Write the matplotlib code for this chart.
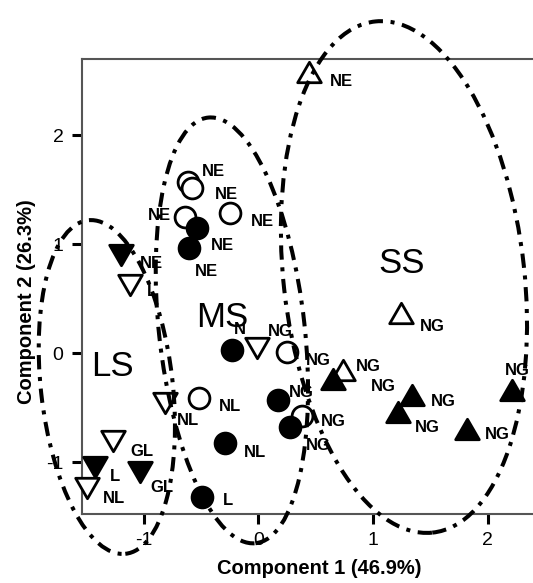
import matplotlib
matplotlib.use("Agg")
import matplotlib.pyplot as plt
from matplotlib.patches import Ellipse
from matplotlib.path import Path
import numpy as np

plt.rcParams['font.family'] = ['Liberation Sans', 'DejaVu Sans']
plt.rcParams['axes.unicode_minus'] = False

# ---- data (PCA scores) ----
open_circle_x = [-0.61, -0.58, -0.64, -0.25, -0.52, 0.25, 0.38]
open_circle_y = [1.57, 1.52, 1.25, 1.29, -0.41, 0.01, -0.58]
open_circle_lab = ["NE", "NE", "NE", "NE", "NL", "NG", "NG"]

filled_circle_x = [-0.53, -0.60, -0.23, -0.29, -0.49, 0.17, 0.28]
filled_circle_y = [1.15, 0.97, 0.03, -0.82, -1.32, -0.43, -0.68]
filled_circle_lab = ["NE", "NE", "N", "NL", "L", "NG", "NG"]

open_down_x = [-1.12, -0.01, -0.81, -1.27, -1.49]
open_down_y = [0.63, 0.05, -0.46, -0.81, -1.24]
open_down_lab = ["L", "NG", "NL", "GL", "NL"]

filled_down_x = [-1.20, -1.42, -1.03]
filled_down_y = [0.90, -1.04, -1.09]
filled_down_lab = ["NE", "L", "GL"]

open_up_x = [0.44, 0.74, 1.24]
open_up_y = [2.58, -0.15, 0.37]
open_up_lab = ["NE", "NG", "NG"]

filled_up_x = [0.65, 1.34, 1.22, 1.82, 2.21]
filled_up_y = [-0.24, -0.38, -0.54, -0.70, -0.34]
filled_up_lab = ["NG", "NG", "NG", "NG", "NG"]

# label offsets (pixels) relative to each marker
open_circle_off = [(25, 11), (35, -7), (-25, 2), (33, -9), (31, -9), (31, -8), (31, -5)]
filled_circle_off = [(25, -17), (17, -24), (8, 20), (30, -10), (26, -3), (24, 8), (28, -18)]
open_down_off = [(22, -7), (23, 16), (23, -17), (29, -10), (27, -10)]
filled_down_off = [(31, -8), (20, -10), (22, -16)]
open_up_off = [(33, -9), (25, 3), (32, -14)]
filled_up_off = [(50, -7), (31, -7), (29, -15), (30, -5), (6, 20)]

# group ellipses: name, centre x, centre y, width, height, angle
groups = ["LS", "MS", "SS"]
group_cx = [-1.32, -0.23, 1.27]
group_cy = [-0.31, 0.21, 0.70]
group_w = [1.15, 1.27, 2.10]
group_h = [3.08, 3.93, 4.72]
group_ang = [6, 6, 6]
group_label_x = [-1.27, -0.31, 1.25]
group_label_y = [-0.12, 0.33, 0.82]

xticks = [-1, 0, 1, 2]
yticks = [-1, 0, 1, 2]

fig = plt.figure(figsize=(5.33, 5.83), dpi=100)
L, R, T, B = 81.5, 533.0, 59.0, 514.0
ax = fig.add_axes([L / 533, 1 - B / 583, (R - L) / 533, (B - T) / 583])
ax.set_xlim(-1.541, 2.395)
ax.set_ylim(-1.476, 2.702)

codes = [Path.MOVETO, Path.LINETO, Path.LINETO, Path.CLOSEPOLY]
up = Path([(-1, -0.866), (1, -0.866), (0, 0.866), (-1, -0.866)], codes)
down = Path([(-1, 0.866), (1, 0.866), (0, -0.866), (-1, 0.866)], codes)

def draw(xs, ys, labs, offs, marker, fill, ms):
    ax.plot(xs, ys, linestyle='none', marker=marker, markersize=ms,
            markerfacecolor=fill, markeredgecolor='black', markeredgewidth=2.0,
            zorder=3, clip_on=False)
    for x, y, t, (dx, dy) in zip(xs, ys, labs, offs):
        ax.annotate(t, (x, y), xytext=(dx, dy), textcoords='offset pixels',
                    ha='center', va='center', fontsize=12, fontweight='bold',
                    zorder=4, annotation_clip=False)

draw(open_circle_x, open_circle_y, open_circle_lab, open_circle_off, 'o', 'white', 15)
draw(filled_circle_x, filled_circle_y, filled_circle_lab, filled_circle_off, 'o', 'black', 15)
draw(open_down_x, open_down_y, open_down_lab, open_down_off, down, 'white', 17)
draw(filled_down_x, filled_down_y, filled_down_lab, filled_down_off, down, 'black', 17)
draw(open_up_x, open_up_y, open_up_lab, open_up_off, up, 'white', 17)
draw(filled_up_x, filled_up_y, filled_up_lab, filled_up_off, up, 'black', 17)

for g, cx, cy, w, h, a, lx, ly in zip(groups, group_cx, group_cy, group_w, group_h,
                                      group_ang, group_label_x, group_label_y):
    e = Ellipse((cx, cy), w, h, angle=a, fill=False, edgecolor='black',
                linewidth=2.9, linestyle=(0, (3.55, 1.9, 1.0, 1.9)), zorder=5,
                clip_on=False)
    ax.add_patch(e)
    ax.text(lx, ly, g, fontsize=25, ha='center', va='center', zorder=4)

for s in ['left', 'top', 'bottom']:
    ax.spines[s].set_color('#555555')
    ax.spines[s].set_linewidth(1.5)
ax.spines['right'].set_visible(False)

ax.set_xticks(xticks)
ax.set_yticks(yticks)
ax.tick_params(axis='both', direction='out', length=7, width=2.2, color='black',
               labelsize=14, pad=6)

ax.set_xlabel("Component 1 (46.9%)", fontsize=14.5, fontweight='bold')
ax.xaxis.label.set_va('center')
ax.xaxis.set_label_coords(0.526, -0.119)
ax.set_ylabel("Component 2 (26.3%)", fontsize=14.5, fontweight='bold')
ax.yaxis.label.set_va('center')
ax.yaxis.set_label_coords(-0.121, 0.466)

fig.savefig("out.png", dpi=100)
